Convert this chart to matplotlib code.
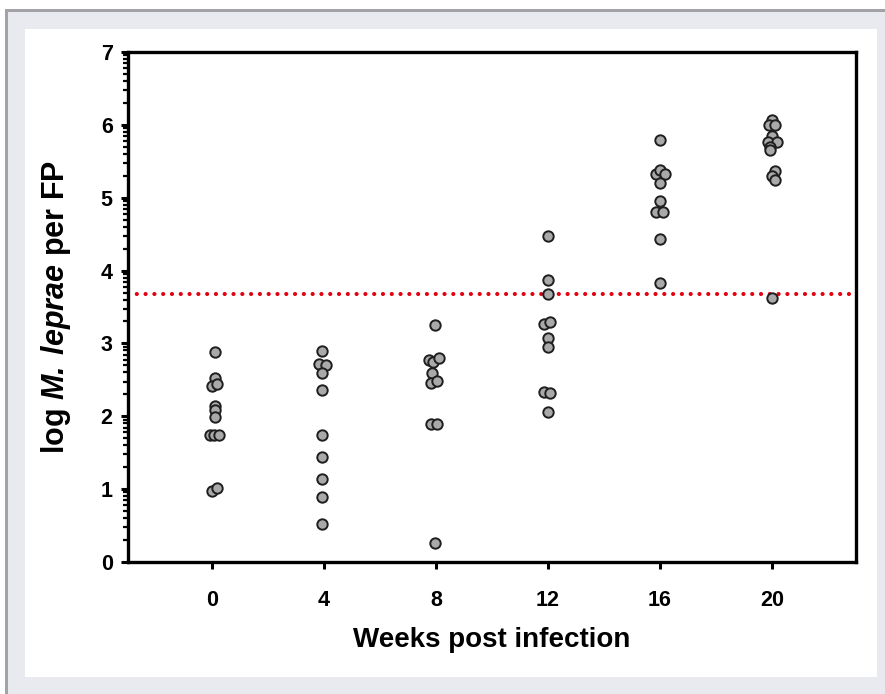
import matplotlib
matplotlib.use("Agg")
import matplotlib.pyplot as plt
import numpy as np
from matplotlib.patches import Rectangle

plt.rcParams['font.family'] = ['Liberation Sans', 'DejaVu Sans']
plt.rcParams['font.weight'] = 'bold'
plt.rcParams['mathtext.fontset'] = 'custom'
plt.rcParams['mathtext.bfit'] = 'Liberation Sans:italic:bold'
plt.rcParams['mathtext.rm'] = 'Liberation Sans:bold'

# data
weeks = [0, 4, 8, 12, 16, 20]
week0 = [2.88, 2.53, 2.41, 2.44, 2.14, 2.09, 1.99, 1.74, 1.74, 1.74, 0.98, 1.02]
week4 = [2.89, 2.72, 2.71, 2.59, 2.36, 1.75, 1.44, 1.14, 0.89, 0.52]
week8 = [3.25, 2.77, 2.75, 2.80, 2.59, 2.46, 2.49, 1.89, 1.89, 0.26]
week12 = [4.48, 3.87, 3.68, 3.27, 3.29, 3.07, 2.95, 2.33, 2.32, 2.06]
week16 = [5.79, 5.33, 5.38, 5.33, 5.20, 4.96, 4.81, 4.81, 4.44, 3.83]
week20 = [6.06, 6.00, 6.00, 5.85, 5.77, 5.76, 5.70, 5.65, 5.36, 5.30, 5.24, 3.62]
detection_limit = 3.68

# horizontal scatter of the overlapping dots (in weeks)
jitter = [
    [0.1, 0.1, 0.0, 0.17, 0.1, 0.1, 0.1, -0.08, 0.08, 0.25, 0.0, 0.17],
    [-0.07, -0.18, 0.06, -0.07, -0.07, -0.07, -0.07, -0.07, -0.07, -0.07],
    [-0.05, -0.25, -0.1, 0.1, -0.15, -0.17, 0.05, -0.17, 0.05, -0.05],
    [0.0, 0.0, 0.0, -0.13, 0.07, 0.0, 0.0, -0.13, 0.07, 0.0],
    [0.0, -0.15, 0.0, 0.17, 0.0, 0.0, -0.14, 0.1, 0.0, 0.0],
    [0.0, -0.12, 0.12, 0.0, -0.16, 0.18, -0.06, -0.08, 0.1, 0.0, 0.1, 0.0],
]
groups = [week0, week4, week8, week12, week16, week20]

fig = plt.figure(figsize=(8.85, 6.94), dpi=100)
fig.patch.set_facecolor('white')

# framed panel behind the chart
W, H = 885.0, 694.0
fig.patches.append(Rectangle((5 / W, 0), 1 - 5 / W, (H - 9) / H, transform=fig.transFigure,
                             facecolor='#a3a3a7', edgecolor='none', zorder=-3))
fig.patches.append(Rectangle((7.5 / W, 0), 1, (H - 11.5) / H, transform=fig.transFigure,
                             facecolor='#e9eaef', edgecolor='none', zorder=-2))
fig.patches.append(Rectangle((25 / W, (H - 677) / H), (877 - 25) / W, (677 - 29) / H,
                             transform=fig.transFigure, facecolor='white', edgecolor='none', zorder=-1))

ax = fig.add_axes([128 / W, (H - 562) / H, (856 - 128) / W, (562 - 52) / H])
ax.set_facecolor('white')

for wk, vals, off in zip(weeks, groups, jitter):
    xs = np.array(off) + wk
    ax.scatter(xs, vals, s=56, facecolor='#a9a9a9', edgecolor='#1e1e1e', linewidth=1.4, zorder=3)

ax.axhline(detection_limit, color='#e3000f', linewidth=3.0, linestyle=(0, (0.01, 2.1)),
           dash_capstyle='round', zorder=2)

ax.set_xlim(-3, 23)
ax.set_ylim(0, 7)
ax.set_xticks(weeks)
ax.set_yticks(range(0, 8))
minor = [n + np.log10(k) for n in range(7) for k in range(2, 10)]
ax.set_yticks(minor, minor=True)

for sp in ax.spines.values():
    sp.set_linewidth(2.4)
    sp.set_color('black')

ax.tick_params(axis='both', which='major', direction='out', width=2.2, length=5,
               labelsize=15.5, colors='black')
ax.tick_params(axis='x', which='major', pad=15)
ax.tick_params(axis='y', which='major', pad=6)
ax.tick_params(axis='y', which='minor', direction='out', width=1.6, length=3.5)

ax.set_xlabel('Weeks post infection', fontsize=20, fontweight='bold', labelpad=12)
ax.set_ylabel(r'log $\mathbfit{M.\,leprae}$ per FP', fontsize=22,
              fontweight='bold', labelpad=20)

fig.savefig('out.png', dpi=100)
